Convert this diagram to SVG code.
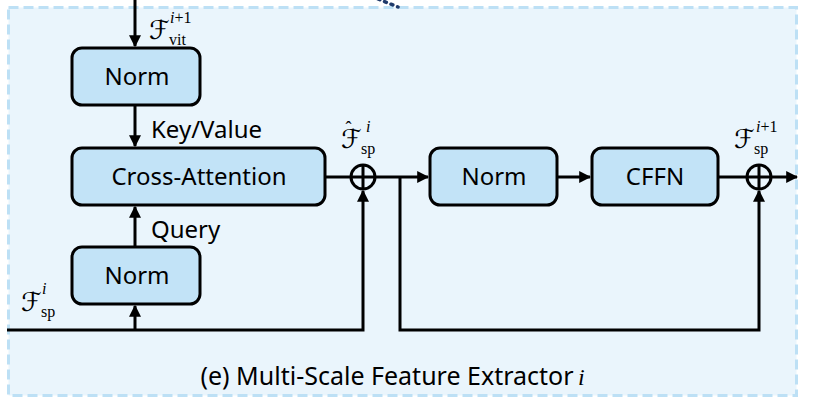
<svg xmlns="http://www.w3.org/2000/svg" width="822" height="410" viewBox="0 0 822 410">
<defs>
<style>
.box{fill:#c2e3f7;stroke:#000;stroke-width:3}
.lbl{font-family:"Noto Sans","Open Sans",sans-serif;font-size:24px;fill:#000}
.cf{font-family:"DejaVu Sans",sans-serif;font-size:26px;fill:#000}
.sub{font-family:"Liberation Serif","DejaVu Serif",serif;font-size:16px;fill:#000}
.it{font-style:italic}
.ln{fill:none;stroke:#000;stroke-width:3}
</style>
<marker id="ah" viewBox="0 0 10 10" refX="9" refY="5" markerWidth="4" markerHeight="4" orient="auto" markerUnits="strokeWidth">
<path d="M0,0 L10,5 L0,10 z" fill="#000"/>
</marker>
</defs>
<rect x="0" y="0" width="822" height="410" fill="#fff"/>
<rect x="8.5" y="7.5" width="788" height="388" fill="#eaf5fc" stroke="#bde0f5" stroke-width="3" stroke-dasharray="10,5"/>
<path d="M378,-1 L398,7" stroke="#1f3a6b" stroke-width="3.5" stroke-dasharray="2,5" stroke-linecap="round" fill="none"/>

<g id="norm1"><rect class="box" x="72" y="48" width="128" height="57" rx="10"/><text class="lbl" x="137" y="85" text-anchor="middle">Norm</text></g>
<g id="cross-attention"><rect class="box" x="72" y="148" width="253" height="57" rx="10"/><text class="lbl" x="199" y="185" text-anchor="middle">Cross-Attention</text></g>
<g id="norm2"><rect class="box" x="72" y="247" width="128" height="57" rx="10"/><text class="lbl" x="137" y="284" text-anchor="middle">Norm</text></g>
<g id="norm3"><rect class="box" x="430" y="148" width="127" height="57" rx="10"/><text class="lbl" x="494" y="185" text-anchor="middle">Norm</text></g>
<g id="cffn"><rect class="box" x="592" y="148" width="126" height="57" rx="10"/><text class="lbl" x="655" y="185" text-anchor="middle">CFFN</text></g>
<g id="add1"><circle cx="363" cy="177" r="12" fill="none" stroke="#000" stroke-width="3"/><path d="M351,177 H375 M363,165 V189" stroke="#000" stroke-width="3"/></g>
<g id="add2"><circle cx="759" cy="177" r="12" fill="none" stroke="#000" stroke-width="3"/><path d="M747,177 H771 M759,165 V189" stroke="#000" stroke-width="3"/></g>

<g id="connectors">
<path class="ln" d="M135,0 V46" marker-end="url(#ah)"/>
<path class="ln" d="M135,105 V146" marker-end="url(#ah)"/>
<path class="ln" d="M135,247 V207" marker-end="url(#ah)"/>
<path class="ln" d="M135,330 V306" marker-end="url(#ah)"/>
<path class="ln" d="M7,330 H363 V191" marker-end="url(#ah)"/>
<path class="ln" d="M325,177 H351"/>
<path class="ln" d="M375,177 H428" marker-end="url(#ah)"/>
<path class="ln" d="M400,177 V330 H759 V191" marker-end="url(#ah)"/>
<path class="ln" d="M557,177 H590" marker-end="url(#ah)"/>
<path class="ln" d="M718,177 H747"/>
<path class="ln" d="M771,177 H797" marker-end="url(#ah)"/>
</g>

<g id="labels">
<text class="lbl" x="151" y="138">Key/Value</text>
<text class="lbl" x="151" y="238">Query</text>
<text class="cf" x="149" y="39">ℱ</text>
<text class="sub" x="170" y="23"><tspan class="it">i</tspan>+1</text>
<text class="sub" x="169" y="45">vit</text>
<text class="cf" x="21" y="311">ℱ</text>
<text class="sub it" x="42" y="294">i</text>
<text class="sub" x="41" y="317">sp</text>
<text class="cf" x="341" y="148">ℱ<tspan class="sub" dx="-16" dy="-14" style="font-size:18px">ˆ</tspan></text>
<text class="sub it" x="366" y="132">i</text>
<text class="sub" x="361" y="154">sp</text>
<text class="cf" x="734" y="148">ℱ</text>
<text class="sub" x="756" y="132"><tspan class="it">i</tspan>+1</text>
<text class="sub" x="754" y="154">sp</text>
<text class="lbl" x="387" y="385" text-anchor="middle" style="font-size:25px">(e) Multi-Scale Feature Extractor</text>
<text class="sub it" x="578" y="385" style="font-size:24px">i</text>
</g>
</svg>
